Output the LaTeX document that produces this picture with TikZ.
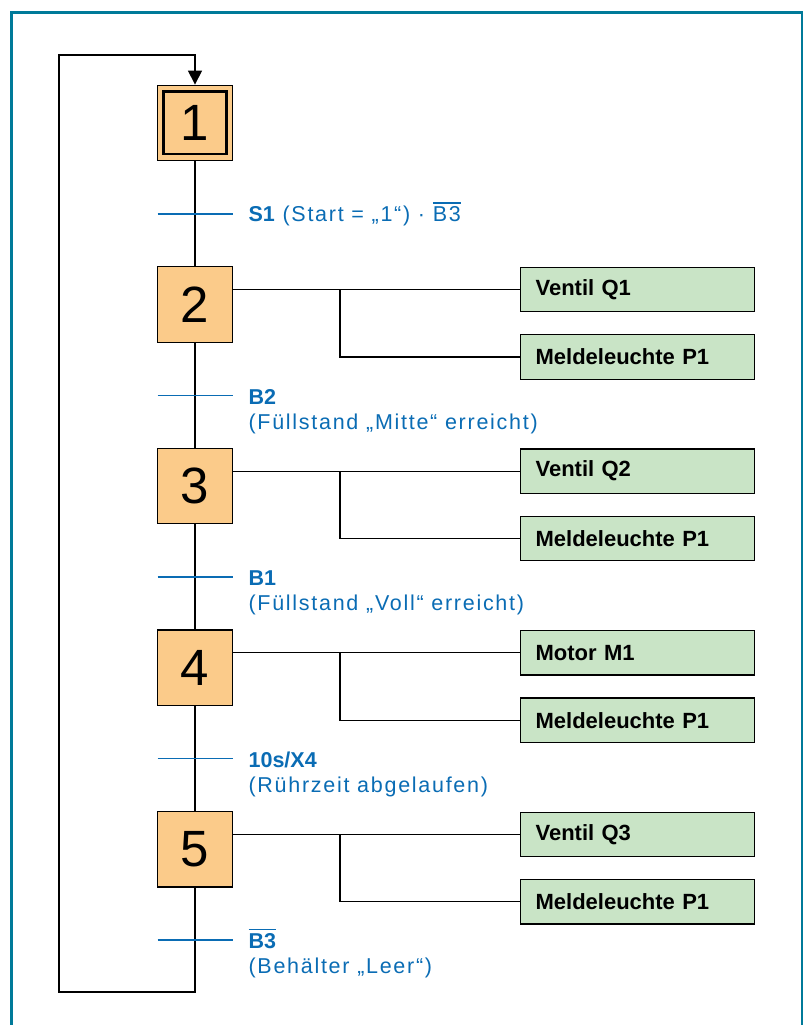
\documentclass[tikz,border=0pt]{standalone}
\usepackage{fontspec}
\setmainfont{Liberation Sans}
\newfontfamily\sperrfont[LetterSpace=8]{Liberation Sans}
\usetikzlibrary{arrows.meta,positioning}
\definecolor{rahmen}{RGB}{0,122,153}
\definecolor{schritt}{RGB}{251,203,138}
\definecolor{aktion}{RGB}{201,228,198}
\definecolor{bedingung}{RGB}{10,108,180}
\newcommand\bsig[1]{{\rmfamily\bfseries #1}}
\newcommand\negiert[1]{\leavevmode\vbox{\hrule height 1.3pt\kern 3pt\hbox{#1}}}
\tikzset{
  stepbox/.style={draw, fill=schritt, minimum size=75.4pt, inner sep=0pt, font=\fontsize{51}{51}\selectfont},
  actbox/.style={draw, fill=aktion, anchor=west, minimum height=44.4pt, text width=203.5pt, inner xsep=15pt, inner ysep=0pt, align=left, font=\fontsize{22}{26}\selectfont\bfseries},
  transbar/.style={draw=bedingung, line width=1.6pt},
  translabel/.style={anchor=base west, inner sep=0pt, text=bedingung, align=left, font=\sperrfont\fontsize{21.5}{25.3}\selectfont},
}
\begin{document}
\begin{tikzpicture}[x=1pt, y=-1pt, line width=1.2pt]
  \useasboundingbox (0,0) rectangle (804,1025);
  % frame
  \draw[rahmen, line width=2.5pt] (11.5,1030) -- (11.5,12.5) -- (802,12.5) -- (802,1030);

  % steps
  \node[stepbox] (s1) at (195,122.9) {1};
  \draw[line width=2.5pt] ([shift={(7,7)}]s1.north west) rectangle ([shift={(-7,-7)}]s1.south east);
  \node[stepbox] (s2) at (195,304.5) {2};
  \node[stepbox] (s3) at (195,486.1) {3};
  \node[stepbox] (s4) at (195,667.7) {4};
  \node[stepbox] (s5) at (195,849.3) {5};
  \draw (s1) -- (s2) -- (s3) -- (s4) -- (s5);

  % return path
  \coordinate (rueck) at (195,992);
  \coordinate (oben) at (59,55);
  \draw[-{Triangle[length=14pt,width=14pt]}] (s5) -- (rueck) -| (oben) -- (oben -| s1) -- (s1);

  % transitions
  \coordinate (t1) at (195,213.7);
  \coordinate (t2) at (195,395.3);
  \coordinate (t3) at (195,576.9);
  \coordinate (t4) at (195,758.5);
  \coordinate (t5) at (195,940.1);
  \draw[transbar] ([xshift=-37.5]t1) -- ([xshift=37.5]t1);
  \draw[transbar] ([xshift=-37.5]t2) -- ([xshift=37.5]t2);
  \draw[transbar] ([xshift=-37.5]t3) -- ([xshift=37.5]t3);
  \draw[transbar] ([xshift=-37.5]t4) -- ([xshift=37.5]t4);
  \draw[transbar] ([xshift=-37.5]t5) -- ([xshift=37.5]t5);
  % (base = last line)
  \node[translabel] (l1) at (248,221.7) {\bsig{S1} (Start = „1“) · \negiert{B3}};
  \node[translabel] (l2) at (248,429.3) {\bsig{B2}\\(Füllstand „Mitte“ erreicht)};
  \node[translabel] (l3) at (248,610.9) {\bsig{B1}\\(Füllstand „Voll“ erreicht)};
  \node[translabel] (l4) at (248,792.5) {\bsig{10s/X4}\\(Rührzeit abgelaufen)};
  \node[translabel] (l5) at (248,973.5) {\bsig{\negiert{B3}}\\(Behälter „Leer“)};

  % actions
  \coordinate (br) at (340,0);
  \node[actbox] (a21) at (520,289.5) {Ventil Q1};
  \node[actbox] (a22) at (520,357) {Meldeleuchte P1};
  \node[actbox] (a31) at (520,471.1) {Ventil Q2};
  \node[actbox] (a32) at (520,538.6) {Meldeleuchte P1};
  \node[actbox] (a41) at (520,652.7) {Motor M1};
  \node[actbox] (a42) at (520,720.2) {Meldeleuchte P1};
  \node[actbox] (a51) at (520,834.3) {Ventil Q3};
  \node[actbox] (a52) at (520,901.8) {Meldeleuchte P1};
  \draw (a21 -| s2.east) -- (a21.west);
  \draw (a21 -| br) |- (a22.west);
  \draw (a31 -| s3.east) -- (a31.west);
  \draw (a31 -| br) |- (a32.west);
  \draw (a41 -| s4.east) -- (a41.west);
  \draw (a41 -| br) |- (a42.west);
  \draw (a51 -| s5.east) -- (a51.west);
  \draw (a51 -| br) |- (a52.west);
\end{tikzpicture}
\end{document}
